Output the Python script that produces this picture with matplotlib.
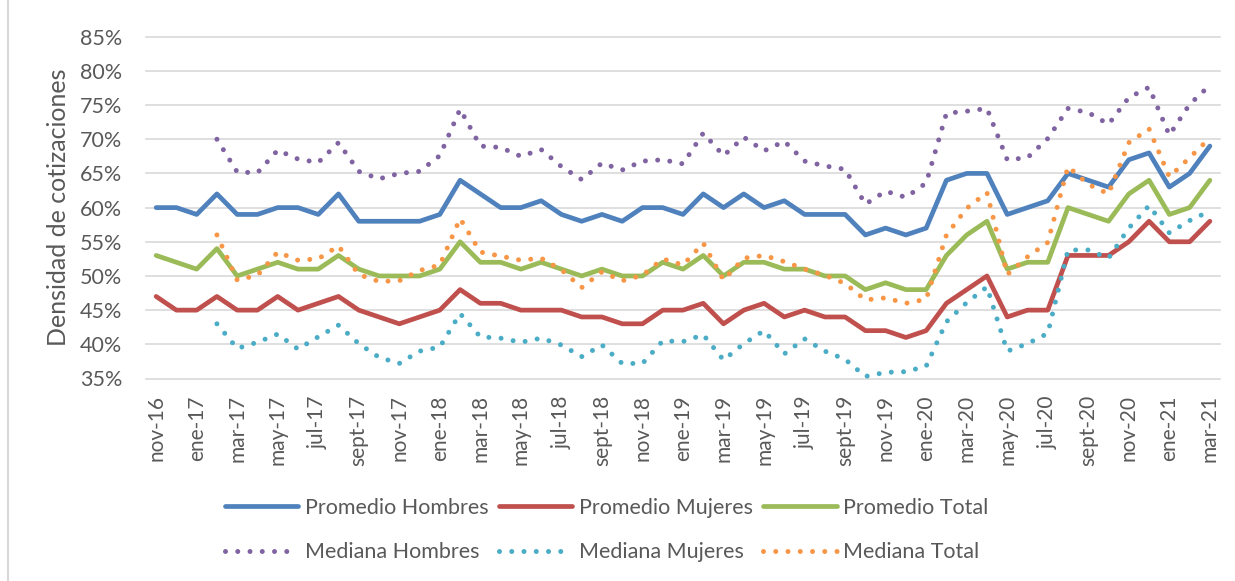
import numpy as np
import matplotlib
matplotlib.use("Agg")
import matplotlib.pyplot as plt
from matplotlib.lines import Line2D
from matplotlib.ticker import PercentFormatter

# ------------------------------------------------------
# Data (percent), nov-16 .. mar-21
# ------------------------------------------------------
month_abbr = ['ene', 'feb', 'mar', 'abr', 'may', 'jun',
              'jul', 'ago', 'sept', 'oct', 'nov', 'dic']
months = []
for k in range(53):
    m = (10 + k) % 12
    y = 16 + (10 + k) // 12
    months.append(f"{month_abbr[m]}-{y}")

nan = np.nan

prom_hombres = [60, 60, 59, 62, 59, 59, 60, 60, 59, 62, 58, 58, 58, 58, 59, 64, 62, 60,
                60, 61, 59, 58, 59, 58, 60, 60, 59, 62, 60, 62, 60, 61, 59, 59, 59,
                56, 57, 56, 57, 64, 65, 65, 59, 60, 61, 65, 64, 63, 67, 68, 63, 65, 69]

prom_mujeres = [47, 45, 45, 47, 45, 45, 47, 45, 46, 47, 45, 44, 43, 44, 45, 48, 46, 46,
                45, 45, 45, 44, 44, 43, 43, 45, 45, 46, 43, 45, 46, 44, 45, 44, 44,
                42, 42, 41, 42, 46, 48, 50, 44, 45, 45, 53, 53, 53, 55, 58, 55, 55, 58]

prom_total = [53, 52, 51, 54, 50, 51, 52, 51, 51, 53, 51, 50, 50, 50, 51, 55, 52, 52,
              51, 52, 51, 50, 51, 50, 50, 52, 51, 53, 50, 52, 52, 51, 51, 50, 50,
              48, 49, 48, 48, 53, 56, 58, 51, 52, 52, 60, 59, 58, 62, 64, 59, 60, 64]

med_hombres = [nan, nan, nan,
               70.0, 65.2, 65.1, 68.4, 67.1, 66.6, 69.5, 65.3, 64.2, 65.0, 65.3, 67.6, 74.4, 69.0, 68.8,
               67.5, 68.5, 66.0, 64.1, 66.5, 65.5, 66.8, 67.0, 66.4, 70.9, 67.6, 70.3, 68.3, 69.7, 66.8, 66.1, 65.6,
               60.5, 62.4, 61.5, 63.6, 73.8, 74.1, 74.5, 67.0, 67.3, 70.1, 74.5, 73.9, 72.2, 76.1, 77.6, 70.6, 75.1, 77.9]

med_mujeres = [nan, nan, nan,
               43.0, 39.4, 40.3, 41.5, 39.3, 41.1, 42.8, 40.1, 38.1, 37.2, 39.0, 39.6, 44.5, 41.1, 40.9,
               40.3, 40.9, 39.9, 38.2, 39.9, 37.2, 37.2, 40.5, 40.4, 41.4, 37.7, 40.1, 42.0, 38.6, 40.8, 39.0, 37.8,
               35.3, 35.9, 36.0, 36.8, 43.3, 46.1, 48.4, 39.0, 40.1, 41.6, 53.8, 53.8, 52.6, 57.0, 60.3, 56.3, 58.1, 59.5]

med_total = [nan, nan, nan,
             56.0, 49.4, 50.1, 53.5, 52.3, 52.5, 54.4, 50.2, 49.2, 49.3, 50.8, 51.6, 58.4, 53.5, 52.9,
             52.3, 52.6, 50.9, 48.3, 50.6, 49.3, 50.1, 52.5, 51.6, 54.8, 49.4, 52.6, 53.0, 52.1, 51.0, 50.1, 48.9,
             46.5, 46.8, 46.0, 46.6, 56.0, 59.9, 62.2, 50.2, 52.8, 54.9, 66.0, 63.4, 62.0, 69.5, 71.5, 64.5, 67.3, 70.2]

TEXT = '#595959'
GRID = '#D9D9D9'


def plot_densidad():
    plt.rcParams['font.family'] = ['Lato', 'DejaVu Sans']
    fig = plt.figure(figsize=(12.35, 5.81), dpi=100)
    ax = fig.add_axes([146 / 1235, 1 - 378.5 / 581, 1074 / 1235, 341.8 / 581])

    x = np.arange(len(months))
    solid = dict(lw=3.4, solid_capstyle='round', solid_joinstyle='round')
    dotted = dict(lw=3.6, linestyle=(0, (0.001, 2.45)), dash_capstyle='round')

    # ----------- promedios (solid) ------------------
    ax.plot(x, prom_hombres, color='#4F81BD', label='Promedio Hombres', **solid)
    ax.plot(x, prom_mujeres, color='#C0504D', label='Promedio Mujeres', **solid)
    ax.plot(x, prom_total, color='#9BBB59', label='Promedio Total', **solid)

    # ----------- medianas (dotted) ------------------
    ax.plot(x, med_hombres, color='#8064A2', label='Mediana Hombres', **dotted)
    ax.plot(x, med_mujeres, color='#4BACC6', label='Mediana Mujeres', **dotted)
    ax.plot(x, med_total, color='#F79646', label='Mediana Total', **dotted)

    ax.set_xlim(-0.5, len(months) - 0.5)
    ax.set_ylim(35, 85)
    ax.set_yticks(range(35, 86, 5))
    ax.yaxis.set_major_formatter(PercentFormatter(decimals=0))
    ax.set_xticks(x[::2])
    ax.set_xticklabels(months[::2], rotation=90, fontsize=15, color=TEXT)
    ax.tick_params(axis='x', length=0, pad=12)
    ax.tick_params(axis='y', length=0, pad=17, labelsize=15.5, labelcolor=TEXT)

    ax.grid(axis='y', color=GRID, lw=1.2)
    ax.set_axisbelow(True)
    for gl in ax.get_ygridlines():
        gl.set_clip_on(False)
    for s in ax.spines.values():
        s.set_visible(False)

    ax.set_ylabel('Densidad de cotizaciones', fontsize=18, color=TEXT)
    ax.yaxis.set_label_coords(-0.071, 0.5)

    # ----------- legend, Excel-like order ----------
    h, l = ax.get_legend_handles_labels()
    order = [0, 3, 1, 4, 2, 5]
    fig.legend([h[i] for i in order], [l[i] for i in order], ncol=3,
               loc='upper left', bbox_to_anchor=(225 / 1235, 1 - 498 / 581),
               frameon=False, fontsize=15.5, labelcolor=TEXT,
               handlelength=3.4, handletextpad=0.3, columnspacing=0.5,
               labelspacing=1.12, borderpad=0, borderaxespad=0)

    # thin frame line at the left edge
    fig.add_artist(Line2D([8 / 1235, 8 / 1235], [0, 1], color=GRID, lw=1.5))

    fig.savefig("out.png", dpi=100)


if __name__ == "__main__":
    plot_densidad()
